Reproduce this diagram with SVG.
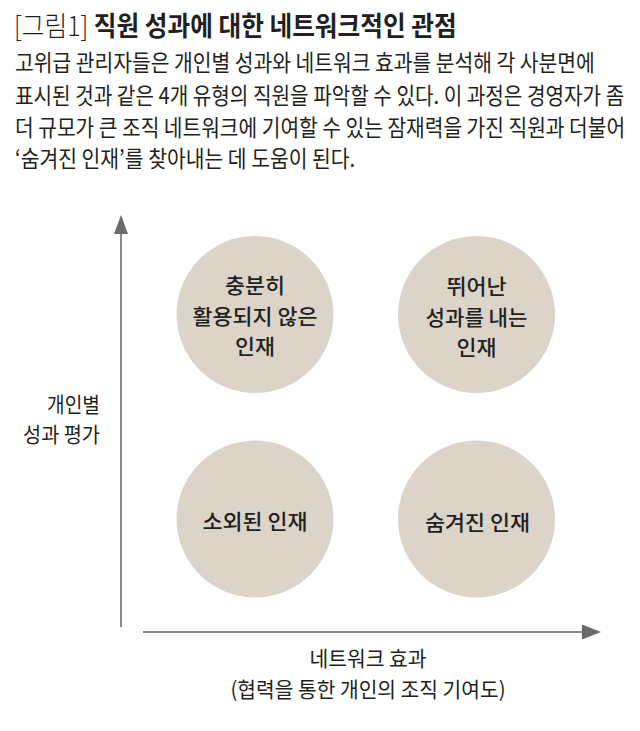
<svg xmlns="http://www.w3.org/2000/svg" width="640" height="731" viewBox="0 0 640 731">
<style>
text{font-family:"Noto Sans CJK KR","Noto Sans",sans-serif;fill:#231f20}
.title{font-size:27px;font-weight:700}
.tlight{font-weight:300}
.body{font-size:23px}
.node{fill:#dcd4c9}
.nl{font-size:21px;text-anchor:middle;font-weight:500}
.ax{font-size:21px}
.axis{stroke:#8a8a8a;stroke-width:2;fill:none}
.head{fill:#6b6b6b}
</style>
<rect width="640" height="731" fill="#ffffff"/>
<g id="header">
<text class="title" transform="translate(14,36) scale(0.84,1)" x="0" y="0" textLength="527" lengthAdjust="spacingAndGlyphs"><tspan class="tlight">[그림1]</tspan> 직원 성과에 대한 네트워크적인 관점</text>
<text class="body" transform="translate(15,71) scale(0.82,1)" x="0" y="0" textLength="707" lengthAdjust="spacingAndGlyphs">고위급 관리자들은 개인별 성과와 네트워크 효과를 분석해 각 사분면에</text>
<text class="body" transform="translate(15,104) scale(0.82,1)" x="0" y="0" textLength="743" lengthAdjust="spacingAndGlyphs">표시된 것과 같은 4개 유형의 직원을 파악할 수 있다. 이 과정은 경영자가 좀</text>
<text class="body" transform="translate(15,136) scale(0.82,1)" x="0" y="0" textLength="744" lengthAdjust="spacingAndGlyphs">더 규모가 큰 조직 네트워크에 기여할 수 있는 잠재력을 가진 직원과 더불어</text>
<text class="body" transform="translate(15,167) scale(0.82,1)" x="0" y="0" textLength="415" lengthAdjust="spacingAndGlyphs">‘숨겨진 인재’를 찾아내는 데 도움이 된다.</text>
</g>
<g id="connectors">
<line class="axis" x1="121" y1="232" x2="121" y2="627"/>
<polygon class="head" points="121,215 114,234 128,234"/>
<line class="axis" x1="143" y1="632" x2="584" y2="632"/>
<polygon class="head" points="601,632 582,624.5 582,639.5"/>
</g>
<g id="node-underused">
<circle class="node" cx="255" cy="314.5" r="78.5"/>
<text class="nl" x="255" y="293" textLength="60" lengthAdjust="spacingAndGlyphs">충분히</text>
<text class="nl" x="255" y="324" textLength="125" lengthAdjust="spacingAndGlyphs">활용되지 않은</text>
<text class="nl" x="255" y="354" textLength="40" lengthAdjust="spacingAndGlyphs">인재</text>
</g>
<g id="node-high">
<circle class="node" cx="476.5" cy="314.5" r="78.5"/>
<text class="nl" x="476.5" y="294" textLength="60" lengthAdjust="spacingAndGlyphs">뛰어난</text>
<text class="nl" x="476.5" y="325" textLength="102" lengthAdjust="spacingAndGlyphs">성과를 내는</text>
<text class="nl" x="476.5" y="355" textLength="40" lengthAdjust="spacingAndGlyphs">인재</text>
</g>
<g id="node-isolated">
<circle class="node" cx="255" cy="519" r="78.5"/>
<text class="nl" x="255" y="529" textLength="105" lengthAdjust="spacingAndGlyphs">소외된 인재</text>
</g>
<g id="node-hidden">
<circle class="node" cx="476.5" cy="519" r="78.5"/>
<text class="nl" x="477.5" y="530" textLength="105" lengthAdjust="spacingAndGlyphs">숨겨진 인재</text>
</g>
<g id="y-label">
<text class="ax" x="100" y="412" text-anchor="end" textLength="53" lengthAdjust="spacingAndGlyphs">개인별</text>
<text class="ax" x="100" y="442" text-anchor="end" textLength="77" lengthAdjust="spacingAndGlyphs">성과 평가</text>
</g>
<g id="x-label">
<text class="ax" x="368" y="666" text-anchor="middle" textLength="117" lengthAdjust="spacingAndGlyphs">네트워크 효과</text>
<text class="ax" x="368" y="697" text-anchor="middle" textLength="275" lengthAdjust="spacingAndGlyphs">(협력을 통한 개인의 조직 기여도)</text>
</g>
</svg>
